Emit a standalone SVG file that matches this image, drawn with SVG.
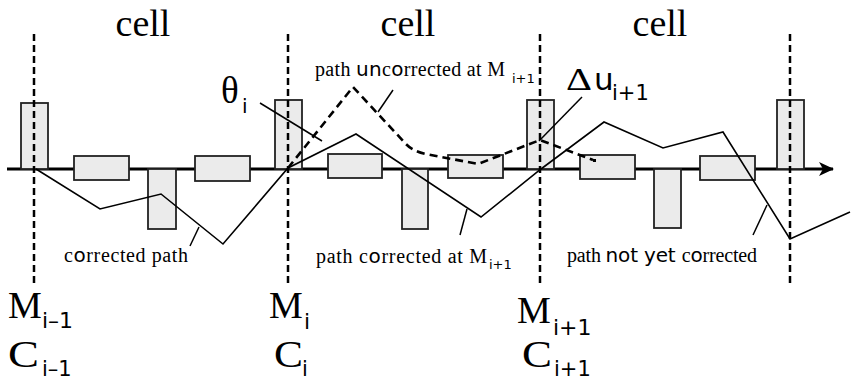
<svg xmlns="http://www.w3.org/2000/svg" width="851" height="382" viewBox="0 0 851 382">
<defs>
<style>
.box{fill:#ebebeb;stroke:#222;stroke-width:1.8}
.axis{stroke:#000;stroke-width:3;fill:none}
.vdash{stroke:#000;stroke-width:2.5;stroke-dasharray:7 4;fill:none}
.path{stroke:#000;stroke-width:1.6;fill:none}
.udash{stroke:#000;stroke-width:2.6;stroke-dasharray:8 5;fill:none}
.lead{stroke:#000;stroke-width:1.5;fill:none}
.serif{font-family:"Liberation Serif","Times New Roman",serif;fill:#000}
.sans{font-family:"DejaVu Sans","Liberation Sans",sans-serif;fill:#000}
.big{font-size:38px}
.small{font-size:20px}
</style>
<marker id="arr" markerWidth="16" markerHeight="16" refX="14" refY="7" orient="auto" markerUnits="userSpaceOnUse">
<path d="M0,0 L15,7 L0,14 L4,7 Z" fill="#000"/>
</marker>
</defs>

<g id="axis">
<line class="axis" x1="7" y1="169" x2="833" y2="169" marker-end="url(#arr)"/>
</g>

<g id="boxes">
<rect class="box" x="21" y="103" width="27" height="66"/>
<rect class="box" x="74" y="156" width="55" height="24"/>
<rect class="box" x="148" y="169" width="28" height="60"/>
<rect class="box" x="195" y="156" width="55" height="25"/>
<rect class="box" x="275" y="100" width="27" height="69"/>
<rect class="box" x="328" y="154" width="54" height="24"/>
<rect class="box" x="402" y="169" width="26" height="60"/>
<rect class="box" x="448" y="155" width="55" height="23"/>
<rect class="box" x="527" y="100" width="27" height="69"/>
<rect class="box" x="580" y="155" width="55" height="24"/>
<rect class="box" x="654" y="169" width="27" height="59"/>
<rect class="box" x="700" y="156" width="55" height="24"/>
<rect class="box" x="777" y="100" width="27" height="69"/>
</g>

<g id="dividers">
<line class="vdash" x1="34" y1="34" x2="34" y2="286"/>
<line class="vdash" x1="288" y1="34" x2="288" y2="286"/>
<line class="vdash" x1="540" y1="34" x2="540" y2="286"/>
<line class="vdash" x1="790" y1="34" x2="790" y2="286"/>
</g>

<g id="connectors">
<polyline class="path" points="36,169 100,209 161,194 223,244 288,168 356,134 481,217 541,169 604,122 663,148 723,132 790,239 850,212"/>
<path class="udash" d="M288,168 L353,87 L405,143 Q412,151 426,154 L478,164 L540,140 L593,160"/>
<rect x="593" y="159" width="3" height="3" fill="#000"/>
<line class="lead" x1="260" y1="103" x2="322" y2="141"/>
<line class="lead" x1="582" y1="97" x2="539" y2="141"/>
<line class="lead" x1="393" y1="90" x2="378" y2="112"/>
<line class="lead" x1="190" y1="246" x2="199" y2="227"/>
<line class="lead" x1="460" y1="235" x2="467" y2="209"/>
<line class="lead" x1="753" y1="235" x2="767" y2="205"/>
</g>

<g id="cell-labels">
<text class="serif big" x="143" y="36" text-anchor="middle">cell</text>
<text class="serif big" x="408" y="36" text-anchor="middle">cell</text>
<text class="serif big" x="660" y="36" text-anchor="middle">cell</text>
</g>

<g id="theta">
<text class="serif" x="221" y="103" font-size="37">θ</text>
<text class="sans" x="242" y="113" font-size="20">i</text>
</g>

<g id="delta-u">
<text class="serif" x="566" y="90" font-size="31" textLength="26" lengthAdjust="spacingAndGlyphs">Δ</text>
<text class="sans" x="594" y="90" font-size="31">u</text>
<text class="sans" x="612" y="100" font-size="21">i+1</text>
</g>

<g id="label-uncorrected">
<text class="serif small" x="315" y="76" textLength="190" lengthAdjust="spacing">path <tspan class="sans">un</tspan>c<tspan class="sans">o</tspan>rrected at M</text>
<text class="sans" x="512" y="83" font-size="13">i+1</text>
</g>

<g id="label-corrected">
<text class="serif small" x="64" y="262" textLength="124" lengthAdjust="spacing">c<tspan class="sans">o</tspan>rrected path</text>
</g>

<g id="label-corrected-at">
<text class="serif small" x="316" y="263" textLength="171" lengthAdjust="spacing">path c<tspan class="sans">o</tspan>rrected at M</text>
<text class="sans" x="489" y="269" font-size="13">i+1</text>
</g>

<g id="label-not-yet">
<text class="serif small" x="567" y="262" textLength="190" lengthAdjust="spacing">path <tspan class="sans">not yet </tspan>c<tspan class="sans">o</tspan>rrected</text>
</g>

<g id="M-im1">
<text class="serif big" x="8" y="318">M</text>
<text class="sans" x="42" y="328" font-size="22">i–1</text>
</g>
<g id="C-im1">
<text class="serif big" x="8" y="367" textLength="31" lengthAdjust="spacingAndGlyphs">C</text>
<text class="sans" x="42" y="376" font-size="21">i–1</text>
</g>
<g id="M-i">
<text class="serif big" x="269" y="318">M</text>
<text class="sans" x="304" y="329" font-size="22">i</text>
</g>
<g id="C-i">
<text class="serif big" x="274" y="367" textLength="29" lengthAdjust="spacingAndGlyphs">C</text>
<text class="sans" x="302" y="376" font-size="21">i</text>
</g>
<g id="M-ip1">
<text class="serif big" x="517" y="323">M</text>
<text class="sans" x="553" y="335" font-size="22">i+1</text>
</g>
<g id="C-ip1">
<text class="serif big" x="522" y="367" textLength="30" lengthAdjust="spacingAndGlyphs">C</text>
<text class="sans" x="554" y="376" font-size="21">i+1</text>
</g>
</svg>
